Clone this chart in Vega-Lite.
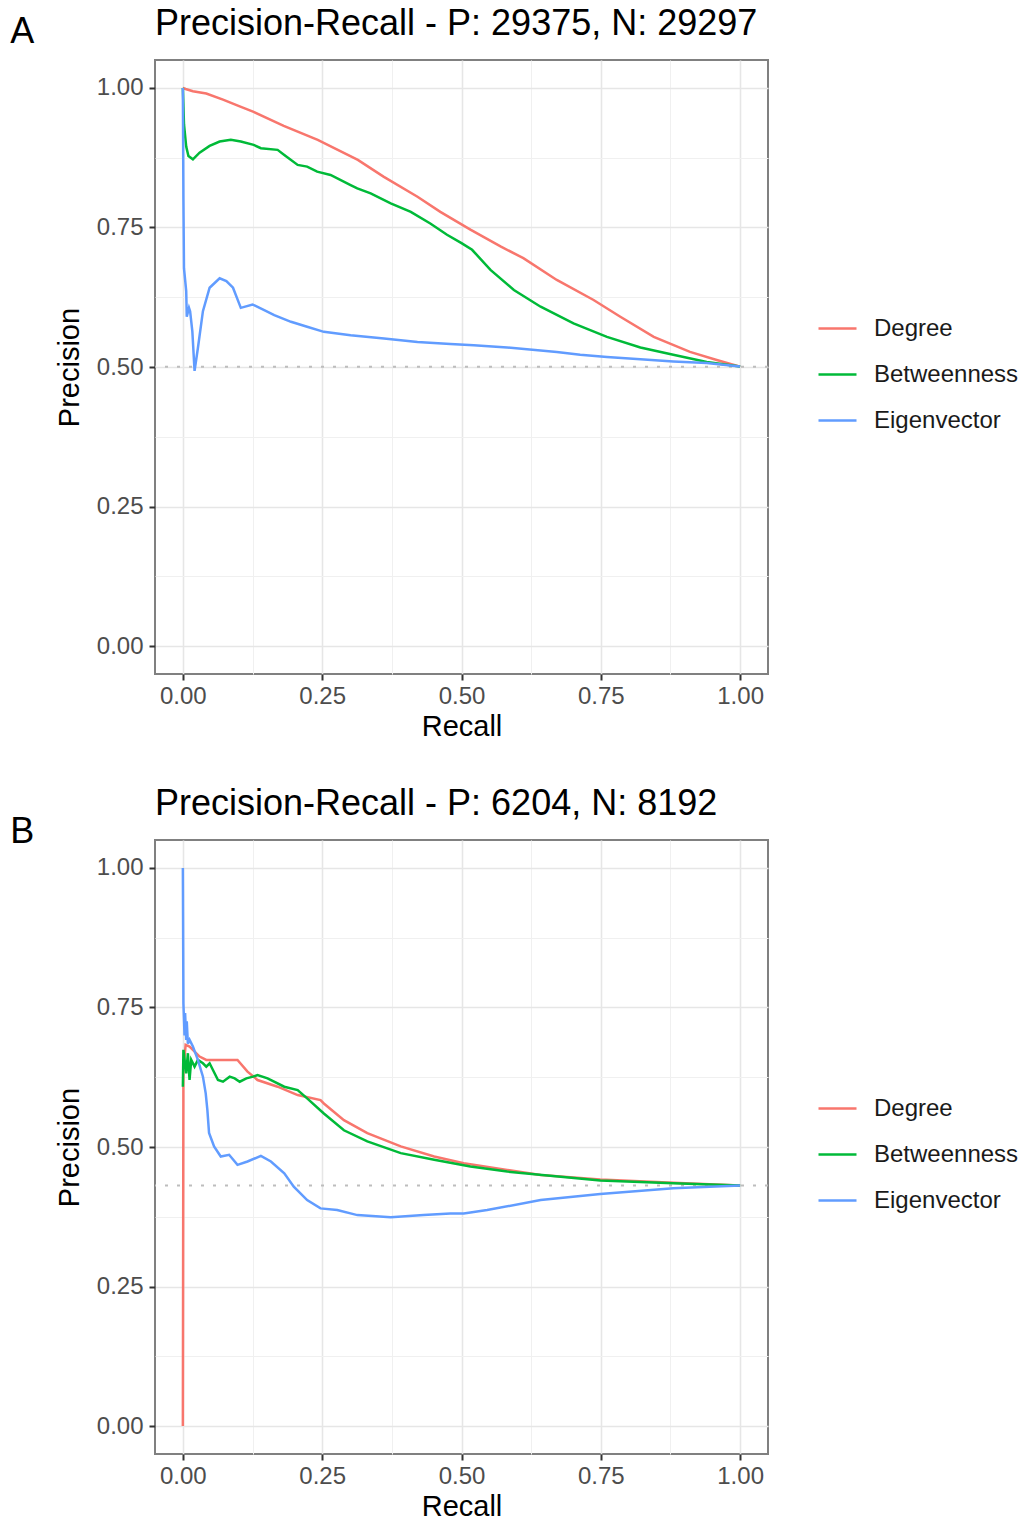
{
  "$schema": "https://vega.github.io/schema/vega-lite/v6.json",
  "background": "white",
  "padding": {"left": 10, "top": 5, "right": 0, "bottom": 0},
  "spacing": 43,
  "config": {
    "font": "Liberation Sans",
    "view": {"stroke": "#808080", "strokeWidth": 2},
    "axis": {
      "domain": false,
      "grid": true,
      "tickColor": "#333333",
      "tickWidth": 2,
      "tickSize": 6,
      "labelFont": "Liberation Sans",
      "labelFontSize": 24,
      "labelColor": "#4D4D4D",
      "labelOverlap": false,
      "labelFlush": false,
      "titleFont": "Liberation Sans",
      "titleFontSize": 29,
      "titleFontWeight": "normal",
      "titleColor": "#000000"
    },
    "axisX": {"titlePadding": 4, "labelPadding": 4},
    "axisY": {"titlePadding": 12, "labelPadding": 6},
    "legend": {
      "labelFont": "Liberation Sans",
      "labelFontSize": 24,
      "labelColor": "#1A1A1A",
      "symbolType": "stroke",
      "symbolSize": 1444,
      "symbolStrokeWidth": 2.5,
      "rowPadding": 13,
      "labelOffset": 16,
      "padding": 0
    },
    "title": {
      "font": "Liberation Sans",
      "fontSize": 36,
      "fontWeight": "normal",
      "color": "#000000",
      "anchor": "start",
      "frame": "group",
      "baseline": "alphabetic",
      "offset": 17
    }
  },
  "datasets": {
    "base": [
      {"panel": "A", "precision": 0.50066},
      {"panel": "B", "precision": 0.43095}
    ],
    "pr": [
      {"panel": "A", "measure": "Degree", "recall": 0.000, "precision": 1.000},
      {"panel": "A", "measure": "Degree", "recall": 0.005, "precision": 0.998},
      {"panel": "A", "measure": "Degree", "recall": 0.018, "precision": 0.994},
      {"panel": "A", "measure": "Degree", "recall": 0.042, "precision": 0.990},
      {"panel": "A", "measure": "Degree", "recall": 0.072, "precision": 0.979},
      {"panel": "A", "measure": "Degree", "recall": 0.102, "precision": 0.967},
      {"panel": "A", "measure": "Degree", "recall": 0.127, "precision": 0.957},
      {"panel": "A", "measure": "Degree", "recall": 0.181, "precision": 0.932},
      {"panel": "A", "measure": "Degree", "recall": 0.242, "precision": 0.907},
      {"panel": "A", "measure": "Degree", "recall": 0.278, "precision": 0.889},
      {"panel": "A", "measure": "Degree", "recall": 0.314, "precision": 0.871},
      {"panel": "A", "measure": "Degree", "recall": 0.360, "precision": 0.841},
      {"panel": "A", "measure": "Degree", "recall": 0.421, "precision": 0.805},
      {"panel": "A", "measure": "Degree", "recall": 0.462, "precision": 0.778},
      {"panel": "A", "measure": "Degree", "recall": 0.516, "precision": 0.746},
      {"panel": "A", "measure": "Degree", "recall": 0.570, "precision": 0.716},
      {"panel": "A", "measure": "Degree", "recall": 0.611, "precision": 0.695},
      {"panel": "A", "measure": "Degree", "recall": 0.671, "precision": 0.656},
      {"panel": "A", "measure": "Degree", "recall": 0.737, "precision": 0.620},
      {"panel": "A", "measure": "Degree", "recall": 0.785, "precision": 0.590},
      {"panel": "A", "measure": "Degree", "recall": 0.845, "precision": 0.554},
      {"panel": "A", "measure": "Degree", "recall": 0.910, "precision": 0.527},
      {"panel": "A", "measure": "Degree", "recall": 0.958, "precision": 0.5125},
      {"panel": "A", "measure": "Degree", "recall": 1.000, "precision": 0.5007},
      {"panel": "A", "measure": "Betweenness", "recall": 0.000, "precision": 1.000},
      {"panel": "A", "measure": "Betweenness", "recall": 0.002, "precision": 0.935},
      {"panel": "A", "measure": "Betweenness", "recall": 0.006, "precision": 0.895},
      {"panel": "A", "measure": "Betweenness", "recall": 0.010, "precision": 0.878},
      {"panel": "A", "measure": "Betweenness", "recall": 0.018, "precision": 0.872},
      {"panel": "A", "measure": "Betweenness", "recall": 0.030, "precision": 0.884},
      {"panel": "A", "measure": "Betweenness", "recall": 0.048, "precision": 0.896},
      {"panel": "A", "measure": "Betweenness", "recall": 0.066, "precision": 0.904},
      {"panel": "A", "measure": "Betweenness", "recall": 0.086, "precision": 0.907},
      {"panel": "A", "measure": "Betweenness", "recall": 0.104, "precision": 0.904},
      {"panel": "A", "measure": "Betweenness", "recall": 0.127, "precision": 0.898},
      {"panel": "A", "measure": "Betweenness", "recall": 0.140, "precision": 0.892},
      {"panel": "A", "measure": "Betweenness", "recall": 0.170, "precision": 0.889},
      {"panel": "A", "measure": "Betweenness", "recall": 0.182, "precision": 0.880},
      {"panel": "A", "measure": "Betweenness", "recall": 0.206, "precision": 0.862},
      {"panel": "A", "measure": "Betweenness", "recall": 0.223, "precision": 0.859},
      {"panel": "A", "measure": "Betweenness", "recall": 0.241, "precision": 0.850},
      {"panel": "A", "measure": "Betweenness", "recall": 0.265, "precision": 0.844},
      {"panel": "A", "measure": "Betweenness", "recall": 0.301, "precision": 0.826},
      {"panel": "A", "measure": "Betweenness", "recall": 0.313, "precision": 0.820},
      {"panel": "A", "measure": "Betweenness", "recall": 0.337, "precision": 0.811},
      {"panel": "A", "measure": "Betweenness", "recall": 0.373, "precision": 0.793},
      {"panel": "A", "measure": "Betweenness", "recall": 0.409, "precision": 0.778},
      {"panel": "A", "measure": "Betweenness", "recall": 0.444, "precision": 0.757},
      {"panel": "A", "measure": "Betweenness", "recall": 0.474, "precision": 0.737},
      {"panel": "A", "measure": "Betweenness", "recall": 0.500, "precision": 0.722},
      {"panel": "A", "measure": "Betweenness", "recall": 0.519, "precision": 0.710},
      {"panel": "A", "measure": "Betweenness", "recall": 0.552, "precision": 0.674},
      {"panel": "A", "measure": "Betweenness", "recall": 0.594, "precision": 0.638},
      {"panel": "A", "measure": "Betweenness", "recall": 0.642, "precision": 0.608},
      {"panel": "A", "measure": "Betweenness", "recall": 0.701, "precision": 0.578},
      {"panel": "A", "measure": "Betweenness", "recall": 0.761, "precision": 0.554},
      {"panel": "A", "measure": "Betweenness", "recall": 0.821, "precision": 0.535},
      {"panel": "A", "measure": "Betweenness", "recall": 0.880, "precision": 0.522},
      {"panel": "A", "measure": "Betweenness", "recall": 0.940, "precision": 0.509},
      {"panel": "A", "measure": "Betweenness", "recall": 1.000, "precision": 0.5007},
      {"panel": "A", "measure": "Eigenvector", "recall": 0.000, "precision": 1.000},
      {"panel": "A", "measure": "Eigenvector", "recall": 0.001, "precision": 0.800},
      {"panel": "A", "measure": "Eigenvector", "recall": 0.002, "precision": 0.677},
      {"panel": "A", "measure": "Eigenvector", "recall": 0.006, "precision": 0.636},
      {"panel": "A", "measure": "Eigenvector", "recall": 0.007, "precision": 0.590},
      {"panel": "A", "measure": "Eigenvector", "recall": 0.011, "precision": 0.606},
      {"panel": "A", "measure": "Eigenvector", "recall": 0.013, "precision": 0.600},
      {"panel": "A", "measure": "Eigenvector", "recall": 0.017, "precision": 0.564},
      {"panel": "A", "measure": "Eigenvector", "recall": 0.021, "precision": 0.493},
      {"panel": "A", "measure": "Eigenvector", "recall": 0.027, "precision": 0.534},
      {"panel": "A", "measure": "Eigenvector", "recall": 0.036, "precision": 0.600},
      {"panel": "A", "measure": "Eigenvector", "recall": 0.048, "precision": 0.642},
      {"panel": "A", "measure": "Eigenvector", "recall": 0.066, "precision": 0.659},
      {"panel": "A", "measure": "Eigenvector", "recall": 0.078, "precision": 0.654},
      {"panel": "A", "measure": "Eigenvector", "recall": 0.090, "precision": 0.642},
      {"panel": "A", "measure": "Eigenvector", "recall": 0.104, "precision": 0.606},
      {"panel": "A", "measure": "Eigenvector", "recall": 0.125, "precision": 0.612},
      {"panel": "A", "measure": "Eigenvector", "recall": 0.146, "precision": 0.602},
      {"panel": "A", "measure": "Eigenvector", "recall": 0.164, "precision": 0.593},
      {"panel": "A", "measure": "Eigenvector", "recall": 0.194, "precision": 0.581},
      {"panel": "A", "measure": "Eigenvector", "recall": 0.223, "precision": 0.572},
      {"panel": "A", "measure": "Eigenvector", "recall": 0.253, "precision": 0.563},
      {"panel": "A", "measure": "Eigenvector", "recall": 0.301, "precision": 0.557},
      {"panel": "A", "measure": "Eigenvector", "recall": 0.361, "precision": 0.551},
      {"panel": "A", "measure": "Eigenvector", "recall": 0.421, "precision": 0.545},
      {"panel": "A", "measure": "Eigenvector", "recall": 0.480, "precision": 0.541},
      {"panel": "A", "measure": "Eigenvector", "recall": 0.522, "precision": 0.539},
      {"panel": "A", "measure": "Eigenvector", "recall": 0.582, "precision": 0.535},
      {"panel": "A", "measure": "Eigenvector", "recall": 0.671, "precision": 0.527},
      {"panel": "A", "measure": "Eigenvector", "recall": 0.713, "precision": 0.522},
      {"panel": "A", "measure": "Eigenvector", "recall": 0.761, "precision": 0.518},
      {"panel": "A", "measure": "Eigenvector", "recall": 0.821, "precision": 0.514},
      {"panel": "A", "measure": "Eigenvector", "recall": 0.880, "precision": 0.510},
      {"panel": "A", "measure": "Eigenvector", "recall": 0.940, "precision": 0.507},
      {"panel": "A", "measure": "Eigenvector", "recall": 1.000, "precision": 0.5007},
      {"panel": "B", "measure": "Degree", "recall": 0.000, "precision": 0.000},
      {"panel": "B", "measure": "Degree", "recall": 0.001, "precision": 0.640},
      {"panel": "B", "measure": "Degree", "recall": 0.005, "precision": 0.683},
      {"panel": "B", "measure": "Degree", "recall": 0.012, "precision": 0.680},
      {"panel": "B", "measure": "Degree", "recall": 0.030, "precision": 0.662},
      {"panel": "B", "measure": "Degree", "recall": 0.042, "precision": 0.656},
      {"panel": "B", "measure": "Degree", "recall": 0.098, "precision": 0.656},
      {"panel": "B", "measure": "Degree", "recall": 0.116, "precision": 0.635},
      {"panel": "B", "measure": "Degree", "recall": 0.134, "precision": 0.620},
      {"panel": "B", "measure": "Degree", "recall": 0.170, "precision": 0.608},
      {"panel": "B", "measure": "Degree", "recall": 0.206, "precision": 0.593},
      {"panel": "B", "measure": "Degree", "recall": 0.247, "precision": 0.584},
      {"panel": "B", "measure": "Degree", "recall": 0.253, "precision": 0.578},
      {"panel": "B", "measure": "Degree", "recall": 0.289, "precision": 0.548},
      {"panel": "B", "measure": "Degree", "recall": 0.331, "precision": 0.525},
      {"panel": "B", "measure": "Degree", "recall": 0.391, "precision": 0.501},
      {"panel": "B", "measure": "Degree", "recall": 0.451, "precision": 0.483},
      {"panel": "B", "measure": "Degree", "recall": 0.504, "precision": 0.471},
      {"panel": "B", "measure": "Degree", "recall": 0.582, "precision": 0.459},
      {"panel": "B", "measure": "Degree", "recall": 0.642, "precision": 0.450},
      {"panel": "B", "measure": "Degree", "recall": 0.749, "precision": 0.442},
      {"panel": "B", "measure": "Degree", "recall": 0.880, "precision": 0.436},
      {"panel": "B", "measure": "Degree", "recall": 1.000, "precision": 0.431},
      {"panel": "B", "measure": "Betweenness", "recall": 0.000, "precision": 0.608},
      {"panel": "B", "measure": "Betweenness", "recall": 0.001, "precision": 0.674},
      {"panel": "B", "measure": "Betweenness", "recall": 0.006, "precision": 0.632},
      {"panel": "B", "measure": "Betweenness", "recall": 0.009, "precision": 0.668},
      {"panel": "B", "measure": "Betweenness", "recall": 0.012, "precision": 0.620},
      {"panel": "B", "measure": "Betweenness", "recall": 0.015, "precision": 0.656},
      {"panel": "B", "measure": "Betweenness", "recall": 0.021, "precision": 0.644},
      {"panel": "B", "measure": "Betweenness", "recall": 0.027, "precision": 0.656},
      {"panel": "B", "measure": "Betweenness", "recall": 0.036, "precision": 0.650},
      {"panel": "B", "measure": "Betweenness", "recall": 0.042, "precision": 0.644},
      {"panel": "B", "measure": "Betweenness", "recall": 0.048, "precision": 0.650},
      {"panel": "B", "measure": "Betweenness", "recall": 0.054, "precision": 0.638},
      {"panel": "B", "measure": "Betweenness", "recall": 0.063, "precision": 0.620},
      {"panel": "B", "measure": "Betweenness", "recall": 0.072, "precision": 0.617},
      {"panel": "B", "measure": "Betweenness", "recall": 0.084, "precision": 0.626},
      {"panel": "B", "measure": "Betweenness", "recall": 0.093, "precision": 0.623},
      {"panel": "B", "measure": "Betweenness", "recall": 0.102, "precision": 0.617},
      {"panel": "B", "measure": "Betweenness", "recall": 0.114, "precision": 0.623},
      {"panel": "B", "measure": "Betweenness", "recall": 0.126, "precision": 0.626},
      {"panel": "B", "measure": "Betweenness", "recall": 0.134, "precision": 0.629},
      {"panel": "B", "measure": "Betweenness", "recall": 0.152, "precision": 0.623},
      {"panel": "B", "measure": "Betweenness", "recall": 0.182, "precision": 0.608},
      {"panel": "B", "measure": "Betweenness", "recall": 0.206, "precision": 0.602},
      {"panel": "B", "measure": "Betweenness", "recall": 0.223, "precision": 0.587},
      {"panel": "B", "measure": "Betweenness", "recall": 0.253, "precision": 0.560},
      {"panel": "B", "measure": "Betweenness", "recall": 0.289, "precision": 0.530},
      {"panel": "B", "measure": "Betweenness", "recall": 0.331, "precision": 0.510},
      {"panel": "B", "measure": "Betweenness", "recall": 0.391, "precision": 0.489},
      {"panel": "B", "measure": "Betweenness", "recall": 0.451, "precision": 0.477},
      {"panel": "B", "measure": "Betweenness", "recall": 0.516, "precision": 0.465},
      {"panel": "B", "measure": "Betweenness", "recall": 0.582, "precision": 0.456},
      {"panel": "B", "measure": "Betweenness", "recall": 0.749, "precision": 0.440},
      {"panel": "B", "measure": "Betweenness", "recall": 0.880, "precision": 0.435},
      {"panel": "B", "measure": "Betweenness", "recall": 1.000, "precision": 0.431},
      {"panel": "B", "measure": "Eigenvector", "recall": 0.000, "precision": 1.000},
      {"panel": "B", "measure": "Eigenvector", "recall": 0.001, "precision": 0.757},
      {"panel": "B", "measure": "Eigenvector", "recall": 0.003, "precision": 0.700},
      {"panel": "B", "measure": "Eigenvector", "recall": 0.004, "precision": 0.740},
      {"panel": "B", "measure": "Eigenvector", "recall": 0.006, "precision": 0.692},
      {"panel": "B", "measure": "Eigenvector", "recall": 0.007, "precision": 0.725},
      {"panel": "B", "measure": "Eigenvector", "recall": 0.009, "precision": 0.685},
      {"panel": "B", "measure": "Eigenvector", "recall": 0.012, "precision": 0.692},
      {"panel": "B", "measure": "Eigenvector", "recall": 0.018, "precision": 0.680},
      {"panel": "B", "measure": "Eigenvector", "recall": 0.027, "precision": 0.656},
      {"panel": "B", "measure": "Eigenvector", "recall": 0.036, "precision": 0.626},
      {"panel": "B", "measure": "Eigenvector", "recall": 0.041, "precision": 0.596},
      {"panel": "B", "measure": "Eigenvector", "recall": 0.044, "precision": 0.566},
      {"panel": "B", "measure": "Eigenvector", "recall": 0.047, "precision": 0.525},
      {"panel": "B", "measure": "Eigenvector", "recall": 0.056, "precision": 0.501},
      {"panel": "B", "measure": "Eigenvector", "recall": 0.068, "precision": 0.483},
      {"panel": "B", "measure": "Eigenvector", "recall": 0.083, "precision": 0.486},
      {"panel": "B", "measure": "Eigenvector", "recall": 0.098, "precision": 0.468},
      {"panel": "B", "measure": "Eigenvector", "recall": 0.116, "precision": 0.474},
      {"panel": "B", "measure": "Eigenvector", "recall": 0.140, "precision": 0.484},
      {"panel": "B", "measure": "Eigenvector", "recall": 0.158, "precision": 0.474},
      {"panel": "B", "measure": "Eigenvector", "recall": 0.182, "precision": 0.453},
      {"panel": "B", "measure": "Eigenvector", "recall": 0.199, "precision": 0.429},
      {"panel": "B", "measure": "Eigenvector", "recall": 0.223, "precision": 0.405},
      {"panel": "B", "measure": "Eigenvector", "recall": 0.247, "precision": 0.390},
      {"panel": "B", "measure": "Eigenvector", "recall": 0.277, "precision": 0.387},
      {"panel": "B", "measure": "Eigenvector", "recall": 0.313, "precision": 0.378},
      {"panel": "B", "measure": "Eigenvector", "recall": 0.373, "precision": 0.374},
      {"panel": "B", "measure": "Eigenvector", "recall": 0.432, "precision": 0.378},
      {"panel": "B", "measure": "Eigenvector", "recall": 0.480, "precision": 0.381},
      {"panel": "B", "measure": "Eigenvector", "recall": 0.504, "precision": 0.381},
      {"panel": "B", "measure": "Eigenvector", "recall": 0.546, "precision": 0.387},
      {"panel": "B", "measure": "Eigenvector", "recall": 0.642, "precision": 0.405},
      {"panel": "B", "measure": "Eigenvector", "recall": 0.749, "precision": 0.416},
      {"panel": "B", "measure": "Eigenvector", "recall": 0.880, "precision": 0.426},
      {"panel": "B", "measure": "Eigenvector", "recall": 1.000, "precision": 0.431}
    ]
  },
  "resolve": {"legend": {"color": "independent"}},
  "vconcat": [
    {
      "title": {"text": "A", "frame": "bounds", "anchor": "start", "orient": "top", "offset": -46, "dx": -44},
      "resolve": {"legend": {"color": "independent"}},
      "vconcat": [
        {
          "width": 613,
          "height": 614,
          "title": {"text": "Precision-Recall - P: 29375, N: 29297"},
          "layer": [
            {
              "data": {"name": "base"},
              "transform": [{"filter": "datum.panel === 'A'"}],
              "mark": {"type": "rule", "color": "#BDBDBD", "strokeWidth": 2, "strokeDash": [3, 9]},
              "encoding": {
                "y": {"field": "precision", "type": "quantitative", "scale": {"domain": [-0.05, 1.05], "nice": false, "zero": false}}
              }
            },
            {
              "data": {"name": "pr"},
              "transform": [{"filter": "datum.panel === 'A'"}],
              "mark": {"type": "line", "strokeWidth": 2.5},
              "encoding": {
                "x": {
                  "field": "recall", "type": "quantitative", "title": "Recall",
                  "scale": {"domain": [-0.05, 1.05], "nice": false, "zero": false},
                  "axis": {
                    "values": [0, 0.125, 0.25, 0.375, 0.5, 0.625, 0.75, 0.875, 1],
                    "labelExpr": "datum.value % 0.25 === 0 ? format(datum.value, '.2f') : ''",
                    "tickOpacity": {"condition": {"test": "datum.value % 0.25 === 0", "value": 1}, "value": 0},
                    "gridColor": {"condition": {"test": "datum.value % 0.25 === 0", "value": "#E6E6E6"}, "value": "#F0F0F0"},
                    "gridWidth": {"condition": {"test": "datum.value % 0.25 === 0", "value": 1.6}, "value": 1}
                  }
                },
                "y": {
                  "field": "precision", "type": "quantitative", "title": "Precision",
                  "scale": {"domain": [-0.05, 1.05], "nice": false, "zero": false},
                  "axis": {
                    "values": [0, 0.125, 0.25, 0.375, 0.5, 0.625, 0.75, 0.875, 1],
                    "labelExpr": "datum.value % 0.25 === 0 ? format(datum.value, '.2f') : ''",
                    "tickOpacity": {"condition": {"test": "datum.value % 0.25 === 0", "value": 1}, "value": 0},
                    "gridColor": {"condition": {"test": "datum.value % 0.25 === 0", "value": "#E6E6E6"}, "value": "#F0F0F0"},
                    "gridWidth": {"condition": {"test": "datum.value % 0.25 === 0", "value": 1.6}, "value": 1}
                  }
                },
                "color": {
                  "field": "measure", "type": "nominal",
                  "scale": {"domain": ["Degree", "Betweenness", "Eigenvector"], "range": ["#F8766D", "#00BA38", "#619CFF"]},
                  "legend": {"title": null, "orient": "none", "legendX": 662, "legendY": 248}
                }
              }
            }
          ]
        }
      ]
    },
    {
      "title": {"text": "B", "frame": "bounds", "anchor": "start", "orient": "top", "offset": -66, "dx": -44},
      "resolve": {"legend": {"color": "independent"}},
      "vconcat": [
        {
          "width": 613,
          "height": 614,
          "title": {"text": "Precision-Recall - P: 6204, N: 8192"},
          "layer": [
            {
              "data": {"name": "base"},
              "transform": [{"filter": "datum.panel === 'B'"}],
              "mark": {"type": "rule", "color": "#BDBDBD", "strokeWidth": 2, "strokeDash": [3, 9]},
              "encoding": {
                "y": {"field": "precision", "type": "quantitative", "scale": {"domain": [-0.05, 1.05], "nice": false, "zero": false}}
              }
            },
            {
              "data": {"name": "pr"},
              "transform": [{"filter": "datum.panel === 'B'"}],
              "mark": {"type": "line", "strokeWidth": 2.5},
              "encoding": {
                "x": {
                  "field": "recall", "type": "quantitative", "title": "Recall",
                  "scale": {"domain": [-0.05, 1.05], "nice": false, "zero": false},
                  "axis": {
                    "values": [0, 0.125, 0.25, 0.375, 0.5, 0.625, 0.75, 0.875, 1],
                    "labelExpr": "datum.value % 0.25 === 0 ? format(datum.value, '.2f') : ''",
                    "tickOpacity": {"condition": {"test": "datum.value % 0.25 === 0", "value": 1}, "value": 0},
                    "gridColor": {"condition": {"test": "datum.value % 0.25 === 0", "value": "#E6E6E6"}, "value": "#F0F0F0"},
                    "gridWidth": {"condition": {"test": "datum.value % 0.25 === 0", "value": 1.6}, "value": 1}
                  }
                },
                "y": {
                  "field": "precision", "type": "quantitative", "title": "Precision",
                  "scale": {"domain": [-0.05, 1.05], "nice": false, "zero": false},
                  "axis": {
                    "values": [0, 0.125, 0.25, 0.375, 0.5, 0.625, 0.75, 0.875, 1],
                    "labelExpr": "datum.value % 0.25 === 0 ? format(datum.value, '.2f') : ''",
                    "tickOpacity": {"condition": {"test": "datum.value % 0.25 === 0", "value": 1}, "value": 0},
                    "gridColor": {"condition": {"test": "datum.value % 0.25 === 0", "value": "#E6E6E6"}, "value": "#F0F0F0"},
                    "gridWidth": {"condition": {"test": "datum.value % 0.25 === 0", "value": 1.6}, "value": 1}
                  }
                },
                "color": {
                  "field": "measure", "type": "nominal",
                  "scale": {"domain": ["Degree", "Betweenness", "Eigenvector"], "range": ["#F8766D", "#00BA38", "#619CFF"]},
                  "legend": {"title": null, "orient": "none", "legendX": 662, "legendY": 248}
                }
              }
            }
          ]
        }
      ]
    }
  ]
}
